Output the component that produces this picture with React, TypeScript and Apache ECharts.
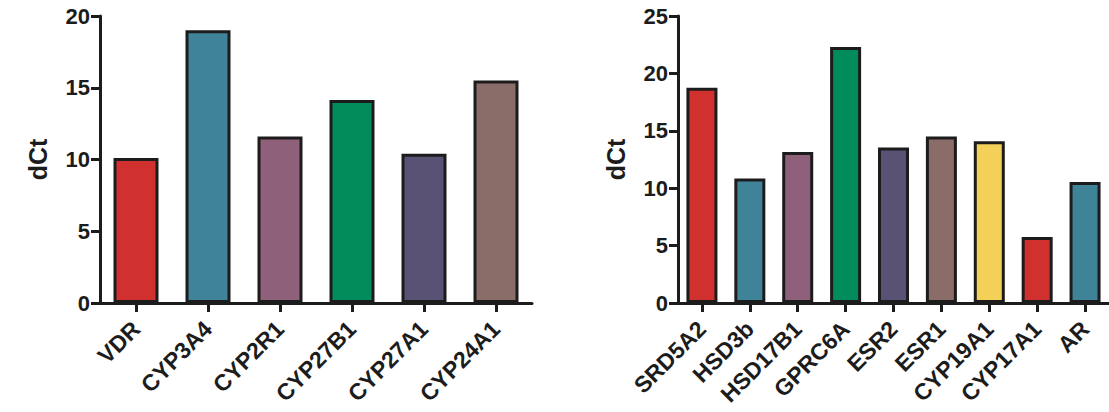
import React, { useEffect, useRef } from "react";
import * as echarts from "echarts";

const leftCategories = ["VDR", "CYP3A4", "CYP2R1", "CYP27B1", "CYP27A1", "CYP24A1"];
const leftValues = [10.1, 19.0, 11.6, 14.15, 10.4, 15.5];
const leftColors = ["#D0312E", "#3F8399", "#8E6079", "#028C5C", "#5A5275", "#8A6D68"];
const leftTicks = [0, 5, 10, 15, 20];

const rightCategories = ["SRD5A2", "HSD3b", "HSD17B1", "GPRC6A", "ESR2", "ESR1", "CYP19A1", "CYP17A1", "AR"];
const rightValues = [18.75, 10.85, 13.15, 22.3, 13.55, 14.5, 14.1, 5.75, 10.55];
const rightColors = ["#D0312E", "#3F8399", "#8E6079", "#028C5C", "#5A5275", "#8A6D68", "#F3D158", "#D0312E", "#3F8399"];
const rightTicks = [0, 5, 10, 15, 20, 25];

const yAxisTitle = "dCt";

const FONT = "Liberation Sans, Arial, Helvetica, sans-serif";
const INK = "#1c1c1c";

function makeX(gridIndex: number, cats: string[]) {
  return {
    type: "category",
    gridIndex,
    data: cats,
    axisLine: { show: true, lineStyle: { color: INK, width: 3 } },
    axisTick: { show: true, alignWithLabel: true, length: 9, lineStyle: { color: INK, width: 3 } },
    axisLabel: {
      rotate: 45,
      margin: 22,
      color: INK,
      fontFamily: FONT,
      fontWeight: "bold",
      fontSize: 23,
      interval: 0,
    },
  };
}

function makeY(gridIndex: number, ticks: number[]) {
  const max = ticks[ticks.length - 1];
  return {
    type: "value",
    gridIndex,
    min: 0,
    max,
    interval: ticks[1] - ticks[0],
    name: yAxisTitle,
    nameLocation: "middle",
    nameRotate: 90,
    nameGap: 50,
    nameTextStyle: { color: INK, fontFamily: FONT, fontWeight: "bold", fontSize: 25 },
    splitLine: { show: false },
    axisLine: { show: true, lineStyle: { color: INK, width: 3 } },
    axisTick: { show: true, length: 9, lineStyle: { color: INK, width: 3 } },
    axisLabel: {
      margin: 10,
      color: INK,
      fontFamily: FONT,
      fontWeight: "bold",
      fontSize: 22,
    },
  };
}

function makeSeries(idx: number, values: number[], colors: string[], barWidth: number) {
  return {
    type: "bar",
    xAxisIndex: idx,
    yAxisIndex: idx,
    barWidth,
    data: values.map((v, i) => ({
      value: v,
      itemStyle: { color: colors[i], borderColor: INK, borderWidth: 3 },
    })),
  };
}

export default function App() {
  const ref = useRef<HTMLDivElement>(null);
  useEffect(() => {
    if (!ref.current) return;
    const chart = echarts.init(ref.current, null, { renderer: "svg" });
    chart.setOption({
      animation: false,
      backgroundColor: "#ffffff",
      grid: [
        { left: 100, top: 16, width: 432, height: 287, containLabel: false },
        { left: 678, top: 16, width: 431, height: 287, containLabel: false },
      ],
      xAxis: [makeX(0, leftCategories), makeX(1, rightCategories)],
      yAxis: [makeY(0, leftTicks), makeY(1, rightTicks)],
      series: [
        makeSeries(0, leftValues, leftColors, 45),
        makeSeries(1, rightValues, rightColors, 31),
      ],
    });
    return () => chart.dispose();
  }, []);
  return (
    <div
      ref={ref}
      style={{ position: "fixed", left: 0, top: 0, width: 1109, height: 412, background: "#fff" }}
    />
  );
}
